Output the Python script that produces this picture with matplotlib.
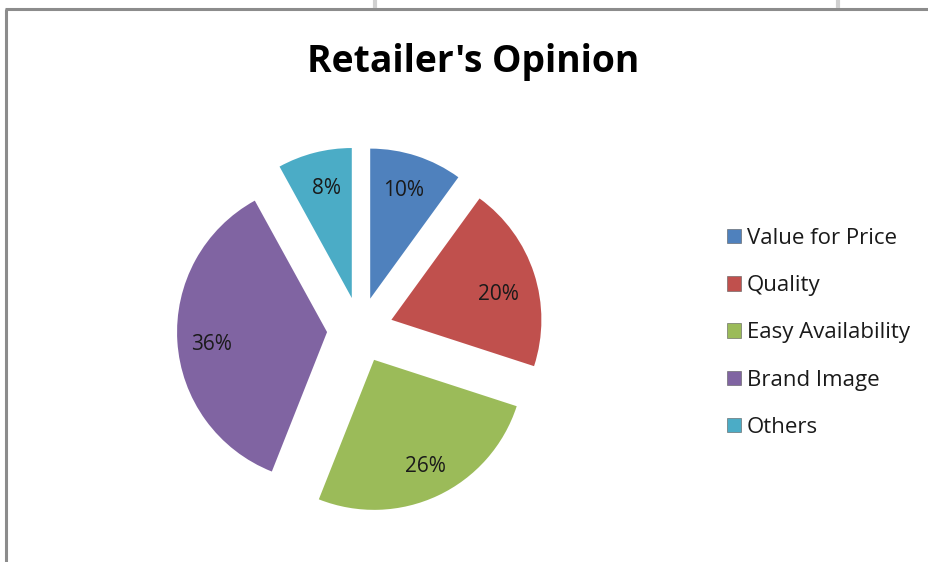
import matplotlib
matplotlib.use('Agg')
import matplotlib.pyplot as plt

# survey shares, clockwise from 12 o'clock
categories = ['Value for Price', 'Quality', 'Easy Availability', 'Brand Image', 'Others']
shares = [10, 20, 26, 36, 8]
colors = ['#4F81BD', '#C0504D', '#9BBB59', '#8064A2', '#4BACC6']
title = "Retailer's Opinion"

W, H = 929, 562
plt.rcParams['font.family'] = ['Open Sans', 'DejaVu Sans']

fig = plt.figure(figsize=(W / 100, H / 100), dpi=100)
ax = fig.add_axes([0, 0, 1, 1])

# pie laid out in pixel units so the explode offset is easy to reason about
radius = 150
wedges, _, pct_texts = ax.pie(
    shares, colors=colors, startangle=90, counterclock=False,
    center=(360, H - 330), radius=radius, explode=[33] * len(shares),
    autopct='%1.0f%%', pctdistance=0.77,
    wedgeprops=dict(linewidth=0),
    textprops=dict(fontsize=15, color='#1a1a1a'))

# small per-label nudges (pixels) for the percentage text
nudges = [(-2, -2), (-3, -10), (2, -2), (0, -5), (3, -2)]
for t, (dx, dy) in zip(pct_texts, nudges):
    x, y = t.get_position()
    t.set_position((x + dx, y + dy))

ax.set_xlim(0, W)
ax.set_ylim(0, H)
ax.set_aspect('equal')
ax.axis('off')

# sheet frame lines
ax.plot([5, W], [H - 9, H - 9], color='#8c8c8c', lw=2.2, solid_capstyle='butt')
ax.plot([6, 6], [0, H - 9], color='#8c8c8c', lw=2.2, solid_capstyle='butt')
for gx in (375, 838):
    ax.plot([gx, gx], [H - 8, H], color='#d0d0d0', lw=3, solid_capstyle='butt')

fig.text(473 / W, 1 - 72 / H, title, ha='center', va='baseline',
         fontsize=26.8, fontweight='bold', color='black')

leg = ax.legend(wedges, categories, loc='upper left',
                bbox_to_anchor=(727 / W, 1 - 228 / H), bbox_transform=fig.transFigure,
                frameon=False, fontsize=16, handlelength=0.63, handleheight=0.63,
                handletextpad=0.27, labelspacing=1.18, borderpad=0, borderaxespad=0)
for t in leg.get_texts():
    t.set_color('#1a1a1a')
for h in leg.legend_handles:
    h.set_edgecolor('#5a5a5a')
    h.set_linewidth(0.4)

fig.savefig('out.png', dpi=100)
